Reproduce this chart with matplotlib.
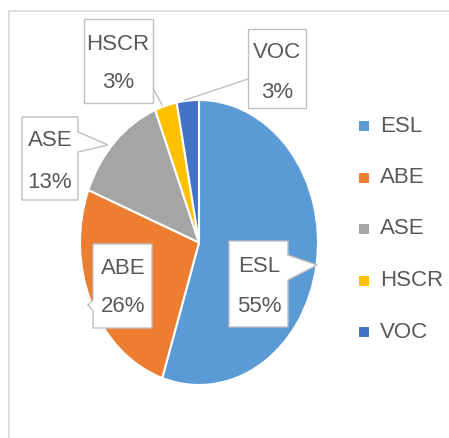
import matplotlib
matplotlib.use('Agg')
import matplotlib.pyplot as plt
from matplotlib.patches import Polygon
from matplotlib import font_manager

# data
labels = ['ESL', 'ABE', 'ASE', 'HSCR', 'VOC']
values = [55, 26, 13, 3, 3]
colors = ['#5B9BD5', '#ED7D31', '#A5A5A5', '#FFC000', '#4472C4']

text_col = '#595959'
have_narrow = any(f.name == 'Liberation Sans Narrow' for f in font_manager.fontManager.ttflist)
fam = ['Liberation Sans Narrow', 'DejaVu Sans'] if have_narrow else ['Liberation Sans', 'DejaVu Sans']
fs = 18 if have_narrow else 16

fig = plt.figure(figsize=(4.49, 4.38), dpi=100)
fig.patch.set_facecolor('white')

# pie axes (slightly stretched vertically like the original)
ax = fig.add_axes([80/449, 53/438, 238/449, 285/438])
wedges, _ = ax.pie(values, colors=colors, startangle=90, counterclock=False,
                   wedgeprops=dict(edgecolor='white', linewidth=1.5))
ax.set_aspect('auto')
ax.set_xlim(-1, 1)
ax.set_ylim(-1, 1)
ax.axis('off')

# overlay in pixel coordinates for the callouts / legend / frame
ov = fig.add_axes([0, 0, 1, 1], zorder=5)
ov.set_xlim(0, 449)
ov.set_ylim(438, 0)
ov.axis('off')

# chart frame
ov.plot([8.5, 8.5], [438, 10.5], color='#D9D9D9', lw=1.2)
ov.plot([8.5, 449], [10.5, 10.5], color='#D9D9D9', lw=1.2)

# callout boxes: outline, name position, pct position
boxes = {
    'ESL': ([(229, 241), (288, 241), (288, 255), (317, 265), (288, 280), (288, 327), (229, 327)],
            (259, 267), (259, 306)),
    'ABE': ([(93, 244), (152, 244), (152, 328), (93, 328), (93, 311), (88, 305), (93, 300)],
            (123, 268), (123, 306)),
    'ASE': ([(22, 117), (78, 117), (78, 132), (108, 145), (78, 152), (78, 200), (22, 200)],
            (50, 140), (50, 182)),
    'HSCR': ([(84, 19), (153, 19), (153, 103), (84, 103)], (118, 44), (118, 83)),
    'VOC': ([(248, 29), (306, 29), (306, 108), (248, 108)], (277, 52), (277, 92)),
}
leaders = {'HSCR': [(153, 162), (88, 105)], 'VOC': [(248, 185), (79, 100)]}

for lab, v in zip(labels, values):
    verts, p1, p2 = boxes[lab]
    ov.add_patch(Polygon(verts, closed=True, facecolor='white', edgecolor='#BFBFBF', lw=1.0))
    ov.text(p1[0], p1[1], lab, ha='center', va='center', color=text_col, fontsize=fs, family=fam)
    ov.text(p2[0], p2[1], f'{v}%', ha='center', va='center', color=text_col, fontsize=fs, family=fam)
    if lab in leaders:
        xs, ys = leaders[lab]
        ov.plot(xs, ys, color='#BFBFBF', lw=1.0)

# legend
for i, (lab, c) in enumerate(zip(labels, colors)):
    y = 126 + 51.5 * i
    ov.scatter([364], [y], marker='s', s=60, color=c, linewidths=0)
    ov.text(380, y, lab, ha='left', va='center', color=text_col, fontsize=fs, family=fam)

fig.savefig('out.png', dpi=100, facecolor='white')
